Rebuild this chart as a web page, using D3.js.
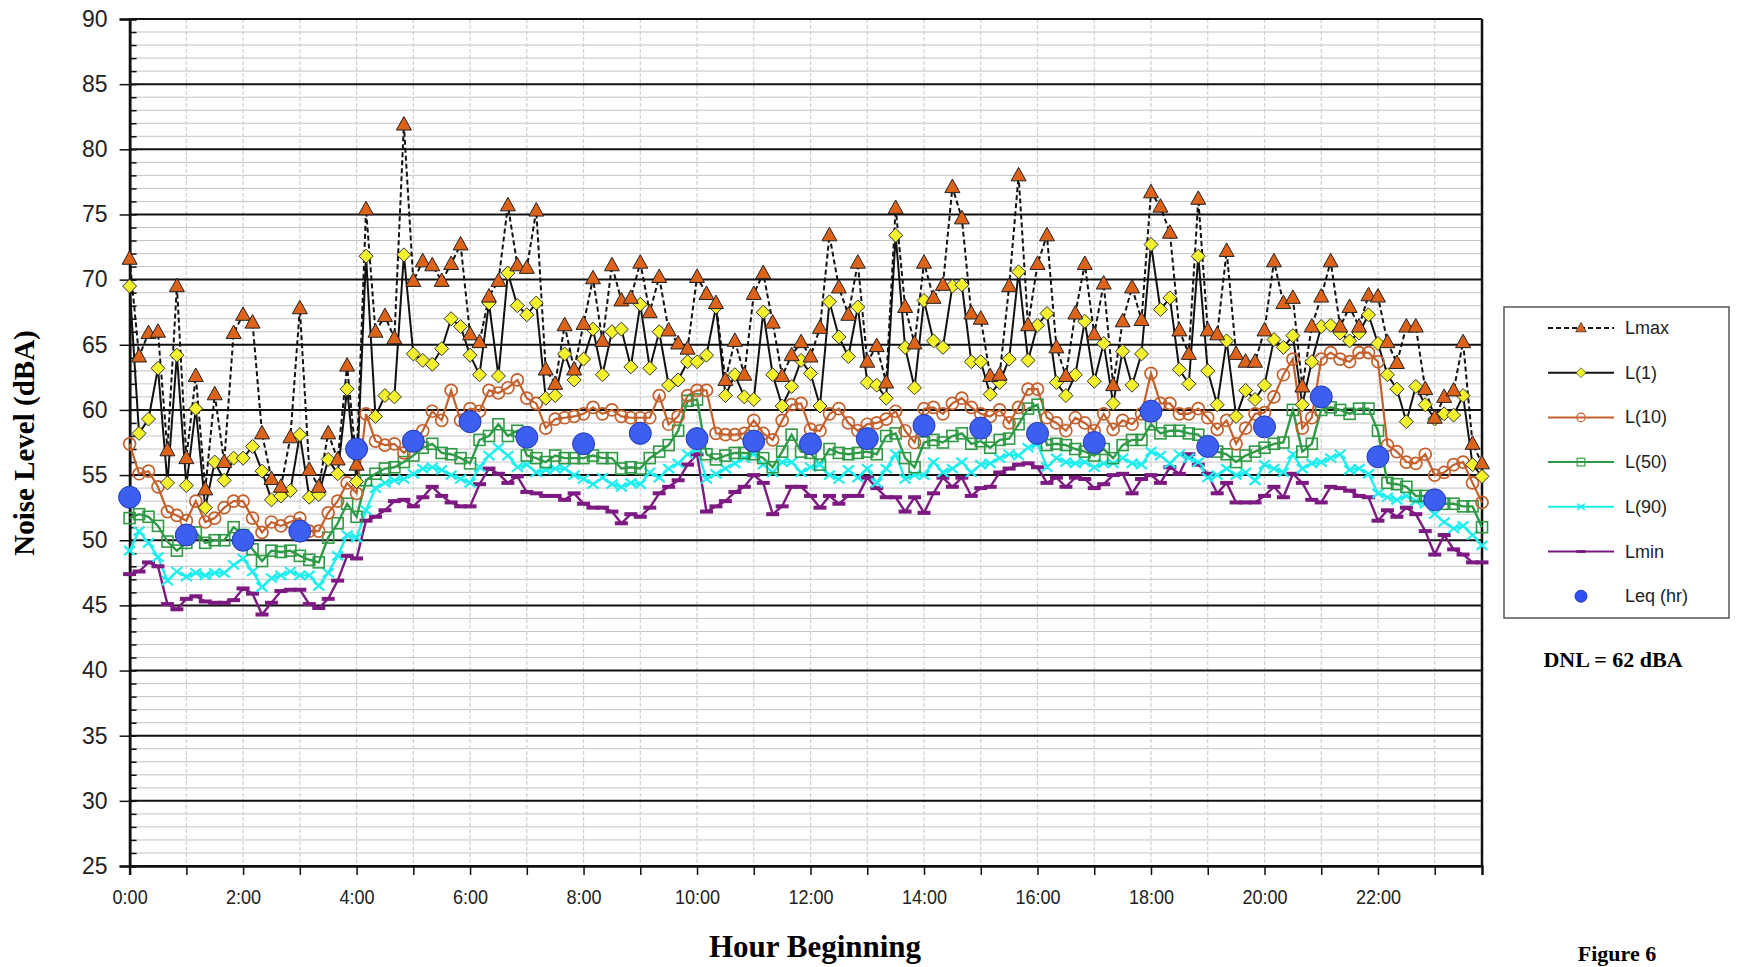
<!DOCTYPE html>
<html>
<head>
<meta charset="utf-8">
<script src="https://cdn.jsdelivr.net/npm/d3@7"></script>
<style>
  body { margin: 0; background: #fff; }
  svg { display: block; }
</style>
</head>
<body>
<svg width="1737" height="967"></svg>
<script>
// 10-minute readings, 6 per hour, 0:00 .. 23:50
const lmax = [
  71.6, 64.1, 65.9, 66.0, 56.9, 69.5,
  56.3, 62.6, 53.9, 61.2, 56.0, 65.9,
  67.3, 66.7, 58.2, 54.7, 54.1, 57.9,
  67.8, 55.4, 54.1, 58.2, 56.2, 63.4,
  55.8, 75.4, 66.0, 67.2, 65.5, 81.9,
  69.9, 71.4, 71.1, 69.9, 71.2, 72.7,
  65.8, 65.2, 68.7, 69.9, 75.7, 71.1,
  70.9, 75.3, 63.1, 62.0, 66.5, 63.1,
  66.6, 70.1, 65.3, 71.1, 68.4, 68.6,
  71.3, 67.5, 70.2, 66.1, 65.1, 64.7,
  70.2, 68.9, 68.2, 62.3, 65.3, 62.7,
  68.9, 70.5, 66.7, 62.6, 64.2, 65.2,
  64.1, 66.3, 73.4, 69.4, 67.3, 71.3,
  63.7, 64.9, 62.1, 75.5, 67.9, 65.1,
  71.3, 68.6, 69.6, 77.1, 74.7, 67.4,
  67.0, 62.6, 62.7, 69.5, 78.0, 66.5,
  71.2, 73.4, 64.8, 62.6, 67.4, 71.2,
  65.8, 69.7, 61.9, 66.8, 69.4, 66.9,
  76.7, 75.6, 73.6, 66.1, 64.3, 76.2,
  66.1, 65.8, 72.2, 64.3, 63.7, 63.7,
  66.1, 71.4, 68.2, 68.6, 61.8, 66.4,
  68.7, 71.4, 66.4, 67.9, 66.4, 68.8,
  68.7, 65.2, 63.6, 66.4, 66.4, 61.6,
  59.4, 61.0, 61.5, 65.2, 57.4, 55.9
];
const l1 = [
  69.5, 58.2, 59.3, 63.2, 54.4, 64.2,
  54.2, 60.1, 52.5, 56.0, 54.6, 56.3,
  56.3, 57.2, 55.3, 53.1, 53.4, 53.8,
  58.1, 53.3, 53.5, 56.2, 55.1, 61.6,
  54.5, 71.8, 59.5, 61.1, 61.0, 71.9,
  64.3, 63.8, 63.5, 64.7, 67.0, 66.4,
  64.2, 62.7, 68.2, 62.6, 70.5, 68.0,
  67.3, 68.2, 60.9, 61.1, 64.3, 62.3,
  63.9, 66.2, 62.7, 66.0, 66.2, 63.3,
  68.1, 63.2, 66.0, 61.9, 62.3, 63.7,
  63.7, 64.2, 67.9, 61.1, 62.7, 61.0,
  60.8, 67.5, 62.7, 60.3, 61.8, 63.8,
  62.8, 60.3, 68.3, 65.6, 64.1, 67.9,
  62.1, 61.9, 60.9, 73.4, 64.8, 61.7,
  68.4, 65.3, 64.8, 69.5, 69.6, 63.7,
  63.7, 61.2, 62.1, 63.9, 70.6, 63.8,
  66.5, 67.4, 62.1, 61.1, 62.7, 66.8,
  62.2, 65.1, 60.5, 64.5, 61.9, 64.3,
  72.7, 67.7, 68.6, 63.1, 62.0, 71.8,
  63.0, 60.4, 65.3, 59.5, 61.5, 60.8,
  61.9, 65.4, 64.8, 65.7, 60.4, 63.7,
  66.4, 66.5, 65.9, 65.3, 65.9, 67.3,
  65.1, 62.7, 61.6, 59.1, 61.8, 60.4,
  59.3, 59.7, 59.6, 61.1, 55.8, 54.9
];
const l10 = [
  57.4, 55.1, 55.3, 54.1, 52.2, 51.9,
  51.5, 53.0, 51.4, 51.7, 52.5, 53.0,
  53.0, 51.7, 50.6, 51.4, 51.1, 51.4,
  51.7, 50.7, 50.7, 52.1, 53.0, 54.4,
  53.6, 59.7, 57.6, 57.3, 57.4, 56.7,
  57.4, 58.4, 59.9, 59.2, 61.5, 59.2,
  60.1, 59.9, 61.5, 61.3, 61.7, 62.3,
  60.9, 60.5, 58.6, 59.3, 59.4, 59.5,
  59.7, 60.2, 59.7, 60.0, 59.5, 59.4,
  59.4, 59.4, 61.1, 58.9, 59.5, 61.1,
  61.5, 61.5, 58.2, 58.1, 58.1, 58.2,
  59.2, 58.2, 57.7, 59.2, 60.4, 60.5,
  58.5, 58.4, 59.7, 60.1, 59.0, 58.4,
  58.9, 59.0, 59.3, 59.9, 58.4, 57.5,
  60.1, 60.2, 59.7, 60.5, 60.9, 60.2,
  59.7, 59.5, 60.0, 59.0, 60.2, 61.6,
  61.6, 59.4, 59.0, 58.4, 59.4, 59.0,
  58.4, 59.7, 58.5, 59.2, 58.9, 59.7,
  62.8, 60.5, 60.5, 59.7, 59.7, 60.1,
  59.4, 58.5, 59.2, 57.4, 58.6, 59.7,
  59.8, 61.0, 62.7, 63.9, 58.6, 59.4,
  63.9, 64.4, 63.9, 63.7, 64.4, 64.4,
  63.7, 57.3, 56.8, 56.0, 55.9, 56.6,
  55.0, 55.2, 55.8, 56.0, 54.4, 52.9
];
const l50 = [
  51.7, 52.0, 51.8, 51.1, 49.9, 49.2,
  49.8, 50.6, 49.8, 50.0, 50.0, 51.0,
  50.4, 49.3, 48.4, 49.2, 49.1, 49.2,
  48.8, 48.5, 48.3, 50.2, 51.3, 52.8,
  51.8, 54.6, 55.1, 55.5, 55.6, 56.0,
  56.5, 57.1, 57.4, 56.7, 56.6, 56.3,
  55.9, 57.7, 58.0, 58.9, 58.0, 58.4,
  56.5, 56.3, 56.0, 56.5, 56.3, 56.3,
  56.3, 56.5, 56.3, 56.3, 55.5, 55.6,
  55.5, 56.3, 56.8, 57.3, 58.4, 60.7,
  60.8, 56.6, 56.2, 56.5, 56.7, 56.7,
  56.6, 56.3, 55.6, 56.8, 58.1, 56.8,
  56.7, 55.8, 57.0, 56.7, 56.6, 56.7,
  56.8, 56.6, 58.0, 58.2, 56.3, 55.6,
  57.5, 57.7, 57.5, 58.0, 58.2, 57.4,
  57.6, 57.1, 57.7, 57.8, 58.9, 60.1,
  60.4, 57.3, 57.4, 57.3, 57.0, 56.8,
  56.5, 57.0, 56.3, 57.3, 57.7, 57.7,
  58.9, 58.2, 58.4, 58.4, 58.2, 58.1,
  57.4, 56.8, 56.6, 56.0, 56.5, 56.8,
  57.1, 57.4, 57.5, 60.0, 56.8, 57.4,
  60.0, 60.2, 60.0, 59.7, 60.1, 60.1,
  58.4, 54.4, 54.3, 54.1, 53.4, 53.4,
  52.9, 52.8, 52.8, 52.6, 52.6, 51.0
];
const l90 = [
  49.2, 50.7, 49.8, 48.7, 46.9, 47.6,
  47.2, 47.5, 47.3, 47.5, 47.5, 48.1,
  48.6, 47.6, 46.4, 47.1, 47.3, 47.6,
  47.3, 47.3, 46.5, 47.5, 48.8, 50.4,
  50.2, 52.3, 54.0, 54.4, 54.6, 54.7,
  55.1, 55.5, 55.6, 55.4, 55.0, 54.7,
  54.4, 55.6, 56.5, 57.1, 56.5, 55.6,
  55.8, 55.2, 55.4, 55.5, 55.5, 55.0,
  54.7, 54.3, 54.8, 54.3, 54.1, 54.4,
  54.3, 55.2, 54.8, 55.5, 55.9, 56.6,
  57.0, 54.7, 55.1, 55.5, 55.9, 56.3,
  56.6, 55.8, 55.2, 56.0, 56.0, 55.2,
  55.6, 55.8, 55.0, 54.7, 55.4, 54.8,
  55.5, 54.4, 55.5, 56.6, 54.7, 55.0,
  55.0, 56.0, 55.2, 55.5, 56.0, 55.2,
  55.8, 55.9, 56.3, 56.6, 56.5, 57.1,
  57.4, 55.6, 56.3, 56.0, 55.9, 56.0,
  55.6, 55.9, 55.9, 56.3, 55.9, 55.8,
  56.8, 56.5, 55.9, 56.6, 56.3, 56.0,
  54.8, 55.0, 55.5, 55.0, 55.2, 54.6,
  55.8, 55.5, 55.2, 56.6, 55.5, 55.9,
  56.0, 56.3, 56.6, 55.4, 55.5, 55.1,
  53.6, 53.3, 53.1, 53.4, 53.0, 52.8,
  52.0, 51.4, 50.9, 51.1, 50.4, 49.6
];
const lmin = [
  47.4, 47.6, 48.3, 48.0, 45.1, 44.7,
  45.5, 45.7, 45.3, 45.2, 45.2, 45.4,
  46.3, 45.9, 44.3, 45.2, 46.1, 46.2,
  46.2, 45.1, 44.8, 45.5, 46.9, 48.8,
  48.6, 51.5, 51.8, 52.3, 53.0, 53.1,
  52.6, 53.3, 54.1, 53.4, 52.9, 52.6,
  52.6, 54.3, 55.5, 55.1, 54.4, 54.9,
  53.7, 53.6, 53.4, 53.4, 53.1, 53.6,
  52.8, 52.5, 52.5, 52.2, 51.3, 52.0,
  51.8, 52.5, 53.6, 54.1, 54.6, 55.8,
  56.6, 52.2, 52.6, 53.0, 53.7, 54.1,
  55.0, 54.4, 52.0, 52.6, 54.1, 54.1,
  53.4, 52.5, 53.4, 52.8, 53.4, 53.4,
  54.8, 54.0, 53.3, 53.3, 52.2, 53.3,
  52.1, 53.6, 54.8, 54.1, 54.8, 53.4,
  54.0, 54.1, 55.2, 55.5, 55.8, 55.9,
  55.6, 54.4, 54.8, 54.1, 54.8, 54.7,
  54.0, 54.3, 55.0, 55.1, 53.6, 54.7,
  55.0, 54.4, 55.6, 55.1, 56.6, 55.8,
  55.1, 53.6, 54.4, 52.9, 52.9, 52.9,
  53.4, 54.1, 53.3, 55.1, 54.4, 53.1,
  52.9, 54.1, 54.0, 53.8, 53.4, 53.3,
  51.5, 52.3, 51.8, 52.5, 52.0, 50.7,
  48.9, 50.4, 49.3, 48.9, 48.3, 48.3
];
// hourly Leq, one per hour 0:00 .. 23:00
const leq = [53.3, 50.4, 50.0, 50.7, 57.0, 57.6, 59.1, 57.9, 57.4, 58.2, 57.8, 57.6,
             57.4, 57.8, 58.8, 58.6, 58.2, 57.5, 59.9, 57.2, 58.7, 61.0, 56.4, 53.1];
const hours = d3.range(24);
const yTicks = d3.range(25, 91, 5);

const svg = d3.select("svg");
const plot = {left: 129.6, right: 1482, top: 19, bottom: 866};

const xScale = d3.scaleLinear().domain([0, 23 + 50 / 60]).range([plot.left, plot.right]);
const yScale = d3.scaleLinear().domain([25, 90]).range([plot.bottom, plot.top]);
const tx = i => xScale(i / 6);

// grid
const grid = svg.append("g");
grid.selectAll(".minor").data(d3.range(25, 91).filter(v => v % 5 !== 0)).enter()
  .append("line")
    .attr("x1", plot.left).attr("x2", plot.right)
    .attr("y1", d => yScale(d)).attr("y2", d => yScale(d))
    .attr("stroke", "#c4c4c4").attr("stroke-width", 1);
grid.selectAll(".vert").data(hours.slice(1)).enter()
  .append("line")
    .attr("x1", d => xScale(d)).attr("x2", d => xScale(d))
    .attr("y1", plot.top).attr("y2", plot.bottom)
    .attr("stroke", "#cfcfcf").attr("stroke-width", 1.2)
    .attr("stroke-dasharray", "4,2");
grid.selectAll(".major").data(yTicks).enter()
  .append("line")
    .attr("x1", plot.left).attr("x2", plot.right)
    .attr("y1", d => yScale(d)).attr("y2", d => yScale(d))
    .attr("stroke", "#111").attr("stroke-width", 2);
svg.append("line")
  .attr("x1", plot.right).attr("x2", plot.right)
  .attr("y1", plot.top).attr("y2", plot.bottom)
  .attr("stroke", "#111").attr("stroke-width", 2.5);

// axes
const yAxis = svg.append("g")
  .attr("transform", `translate(${plot.left},0)`)
  .call(d3.axisLeft(yScale).tickValues(yTicks).tickSize(10).tickPadding(12));
yAxis.selectAll("text").attr("font-family", "Liberation Sans, Arial, sans-serif")
  .attr("font-size", 23).attr("fill", "#222");
svg.append("g")
  .attr("transform", `translate(${plot.left},0)`)
  .call(d3.axisLeft(yScale).tickValues(d3.range(25, 91)).tickSize(-7).tickFormat(""));

const xAxis = svg.append("g")
  .attr("transform", `translate(0,${plot.bottom})`)
  .call(d3.axisBottom(xScale).tickValues(hours).tickSize(9).tickPadding(14)
    .tickFormat(h => h % 2 === 0 ? h + ":00" : ""));
xAxis.selectAll("text").attr("font-family", "Liberation Sans, Arial, sans-serif")
  .attr("font-size", 21).attr("fill", "#222")
  .attr("transform", "scale(0.86,1)");
svg.selectAll(".domain").attr("stroke", "#111").attr("stroke-width", 2.5);
svg.selectAll(".tick line").attr("stroke", "#111").attr("stroke-width", 1.5);

// marker drawers
const markers = {
  tri: g => g.append("path").attr("d", "M0,-8L7.5,5.5L-7.5,5.5Z")
    .attr("fill", "#DD621A").attr("stroke", "#222").attr("stroke-width", 1),
  dia: g => g.append("path").attr("d", "M0,-7L7,0L0,7L-7,0Z")
    .attr("fill", "#F4F22C").attr("stroke", "#333").attr("stroke-width", 1),
  circ: g => g.append("circle").attr("r", 6)
    .attr("fill", "none").attr("stroke", "#C4602C").attr("stroke-width", 1.7),
  sq: g => g.append("rect").attr("x", -5.5).attr("y", -5.5).attr("width", 11).attr("height", 11)
    .attr("fill", "none").attr("stroke", "#2F9A45").attr("stroke-width", 1.6),
  cross: g => g.append("path").attr("d", "M-5.5,-4.5L5.5,4.5M-5.5,4.5L5.5,-4.5")
    .attr("stroke", "#1EEEEE").attr("stroke-width", 2.2),
  dash: g => g.append("path").attr("d", "M-6.5,0L6.5,0")
    .attr("stroke", "#7D1A82").attr("stroke-width", 4)
};

const series = [
  {name: "Lmin", values: lmin, color: "#7D1A82", width: 2.4, dash: null, marker: "dash"},
  {name: "L(90)", values: l90, color: "#1EEEEE", width: 2.4, dash: null, marker: "cross"},
  {name: "L(50)", values: l50, color: "#2F9A45", width: 2.4, dash: null, marker: "sq"},
  {name: "L(10)", values: l10, color: "#C4602C", width: 2.2, dash: null, marker: "circ"},
  {name: "L(1)", values: l1, color: "#111", width: 2, dash: null, marker: "dia"},
  {name: "Lmax", values: lmax, color: "#111", width: 2, dash: "5,3", marker: "tri"}
];

const line = d3.line().x((d, i) => tx(i)).y(d => yScale(d));

series.forEach(s => {
  svg.append("path")
    .datum(s.values)
    .attr("d", line)
    .attr("fill", "none")
    .attr("stroke", s.color)
    .attr("stroke-width", s.width)
    .attr("stroke-dasharray", s.dash);
});
series.forEach(s => {
  svg.append("g").selectAll("g").data(s.values).enter()
    .append("g")
      .attr("transform", (d, i) => `translate(${tx(i)},${yScale(d)})`)
      .each(function() { markers[s.marker](d3.select(this)); });
});

// hourly Leq dots
svg.append("g").selectAll("circle").data(leq).enter()
  .append("circle")
    .attr("cx", (d, i) => xScale(hours[i]))
    .attr("cy", d => yScale(d))
    .attr("r", 11)
    .attr("fill", "#3D5FF0")
    .attr("stroke", "#2438B0")
    .attr("stroke-width", 1);

// legend
const legend = svg.append("g");
legend.append("rect")
  .attr("x", 1504).attr("y", 307).attr("width", 225).attr("height", 311)
  .attr("fill", "#fff").attr("stroke", "#555").attr("stroke-width", 1.5);
const legendItems = series.slice().reverse().concat([{name: "Leq (hr)", marker: "leq"}]);
legendItems.forEach((s, i) => {
  const ly = 328 + i * 44.7;
  const g = legend.append("g");
  if (s.marker !== "leq") {
    g.append("line")
      .attr("x1", 1548).attr("x2", 1614).attr("y1", ly).attr("y2", ly)
      .attr("stroke", s.color).attr("stroke-width", 2)
      .attr("stroke-dasharray", s.dash);
    const m = g.append("g");
    markers[s.marker](m);
    m.attr("transform", `translate(1581,${ly}) scale(0.7)`);
  } else {
    g.append("circle").attr("cx", 1581).attr("cy", ly).attr("r", 6)
      .attr("fill", "#2F4FF5").attr("stroke", "#2438B0");
  }
  g.append("text")
    .attr("x", 1625).attr("y", ly + 6)
    .attr("font-family", "Liberation Sans, Arial, sans-serif")
    .attr("font-size", 18).attr("fill", "#222")
    .text(s.name);
});

// titles
const serif = "Liberation Serif, Times New Roman, serif";
svg.append("text")
  .attr("transform", "translate(34,443) rotate(-90)")
  .attr("text-anchor", "middle")
  .attr("font-family", serif).attr("font-weight", "bold").attr("font-size", 29)
  .text("Noise Level (dBA)");
svg.append("text")
  .attr("x", 815).attr("y", 957)
  .attr("text-anchor", "middle")
  .attr("font-family", serif).attr("font-weight", "bold").attr("font-size", 31)
  .text("Hour Beginning");
svg.append("text")
  .attr("x", 1613).attr("y", 667)
  .attr("text-anchor", "middle")
  .attr("font-family", serif).attr("font-weight", "bold").attr("font-size", 22)
  .text("DNL = 62 dBA");
svg.append("text")
  .attr("x", 1617).attr("y", 961)
  .attr("text-anchor", "middle")
  .attr("font-family", serif).attr("font-weight", "bold").attr("font-size", 22)
  .text("Figure 6");
</script>
</body>
</html>
